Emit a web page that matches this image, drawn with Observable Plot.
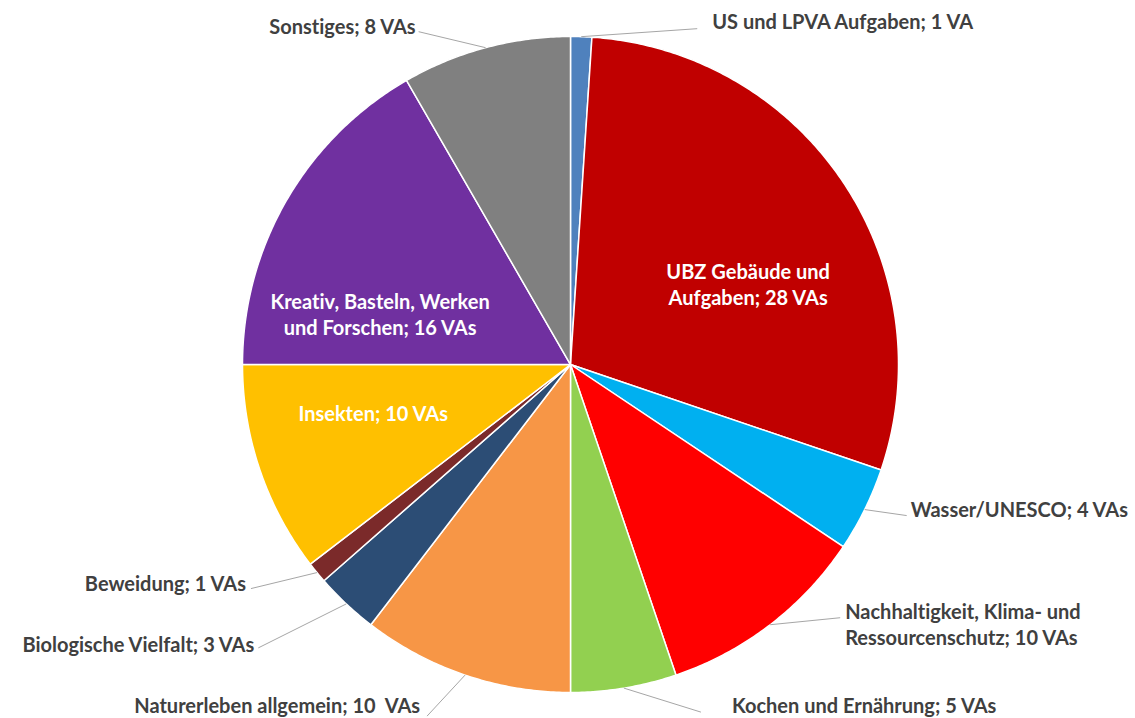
<!DOCTYPE html>
<html>
<head>
<meta charset="utf-8">
<script src="https://cdn.jsdelivr.net/npm/d3@7"></script>
<script src="https://cdn.jsdelivr.net/npm/@observablehq/plot@0.6"></script>
<style>
  body { margin: 0; background: #ffffff; }
  #chart svg { display: block; }
  #chart svg text { font-variant-ligatures: none; font-feature-settings: "liga" 0, "clig" 0; }
</style>
</head>
<body>
<div id="chart"></div>
<script>
// ---- Data ----
const categories = [
  "US und LPVA Aufgaben",
  "UBZ Gebäude und Aufgaben",
  "Wasser/UNESCO",
  "Nachhaltigkeit, Klima- und Ressourcenschutz",
  "Kochen und Ernährung",
  "Naturerleben allgemein",
  "Biologische Vielfalt",
  "Beweidung",
  "Insekten",
  "Kreativ, Basteln, Werken und Forschen",
  "Sonstiges"
];
const values = [1, 28, 4, 10, 5, 10, 3, 1, 10, 16, 8];
const labels = [
  "US und LPVA Aufgaben; 1 VA",
  "UBZ Gebäude und\nAufgaben; 28 VAs",
  "Wasser/UNESCO; 4 VAs",
  "Nachhaltigkeit, Klima- und\nRessourcenschutz; 10 VAs",
  "Kochen und Ernährung; 5 VAs",
  "Naturerleben allgemein; 10\u00a0 VAs",
  "Biologische Vielfalt; 3 VAs",
  "Beweidung; 1 VAs",
  "Insekten; 10 VAs",
  "Kreativ, Basteln, Werken\nund Forschen; 16 VAs",
  "Sonstiges; 8 VAs"
];
const colors = [
  "#4f81bd", "#c00000", "#00b0f0", "#ff0000", "#92d050", "#f79646",
  "#2c4d75", "#7b2a2a", "#ffc000", "#7030a0", "#808080"
];

// ---- Layout (label placement, not data) ----
const R = 328; // pixel radius
// inside: radius factor 0.6; outside: radius factor 1. n = text nudge (px), l = leader end nudge (px)
const labelLayout = [
  {inside: false, anchor: "start", n: [131, -16], l: [116, -8]},
  {inside: true,  anchor: "middle", n: [14, 29]},
  {inside: false, anchor: "start", n: [46, -1], l: [42, 6]},
  {inside: false, anchor: "start", n: [75, -1], l: [70, -7]},
  {inside: false, anchor: "start", n: [108, 17], l: [77, 24]},
  {inside: false, anchor: "end", n: [-45, 30], l: [-38, 41]},
  {inside: false, anchor: "end", n: [-92, 40], l: [-88, 44]},
  {inside: false, anchor: "end", n: [-71, 10], l: [-66, 16]},
  {inside: true,  anchor: "middle", n: [-11, -15]},
  {inside: true,  anchor: "middle", n: [-20, 48]},
  {inside: false, anchor: "end", n: [-70, -22], l: [-67, -16]}
];

// ---- Build geometry from data ----
const arcs = d3.pie().sort(null).value(d => d)(values); // angles clockwise from 12 o'clock

const polyPoints = [];
arcs.forEach((a, i) => {
  const cat = categories[i];
  polyPoints.push({category: cat, x: 0, y: 0});
  const steps = Math.max(2, Math.ceil((a.endAngle - a.startAngle) / (Math.PI / 360)));
  for (let k = 0; k <= steps; k++) {
    const t = a.startAngle + (a.endAngle - a.startAngle) * k / steps;
    polyPoints.push({category: cat, x: Math.sin(t), y: Math.cos(t)});
  }
  polyPoints.push({category: cat, x: 0, y: 0});
});

const labelData = arcs.map((a, i) => {
  const mid = (a.startAngle + a.endAngle) / 2;
  const L = labelLayout[i];
  const rf = L.inside ? 0.6 : 1;
  const ex = rf * Math.sin(mid), ey = rf * Math.cos(mid);
  const d = {
    label: labels[i], anchor: L.anchor, inside: L.inside,
    x: ex + L.n[0] / R, y: ey - L.n[1] / R,
    ex, ey
  };
  if (!L.inside) { d.lx = ex + L.l[0] / R; d.ly = ey - L.l[1] / R; }
  return d;
});
const outside = labelData.filter(d => !d.inside);

const fontStyle = {fontFamily: "Lato, 'Open Sans', sans-serif", fontWeight: "bold", fontSize: 20, lineHeight: 1.3, lineAnchor: "middle"};

const chart = Plot.plot({
  width: 1135,
  height: 718,
  margin: 0,
  style: {background: "#ffffff", fontFamily: "Lato, sans-serif"},
  x: {domain: [-1, 1], range: [570 - R, 570 + R], axis: null},
  y: {domain: [-1, 1], range: [364 + R, 364 - R], axis: null},
  color: {domain: categories, range: colors},
  marks: [
    Plot.line(polyPoints, {x: "x", y: "y", z: "category", fill: "category", stroke: "#ffffff", strokeWidth: 1.5, curve: "linear"}),
    Plot.link(outside, {x1: "ex", y1: "ey", x2: "lx", y2: "ly", stroke: "#a6a6a6", strokeWidth: 1}),
    Plot.text(labelData.filter(d => d.anchor === "start"), {x: "x", y: "y", text: "label", textAnchor: "start", fill: "#404040", ...fontStyle}),
    Plot.text(labelData.filter(d => d.anchor === "end"), {x: "x", y: "y", text: "label", textAnchor: "end", fill: "#404040", ...fontStyle}),
    Plot.text(labelData.filter(d => d.anchor === "middle"), {x: "x", y: "y", text: "label", textAnchor: "middle", fill: "#ffffff", ...fontStyle})
  ]
});
document.getElementById("chart").appendChild(chart);
</script>
</body>
</html>
